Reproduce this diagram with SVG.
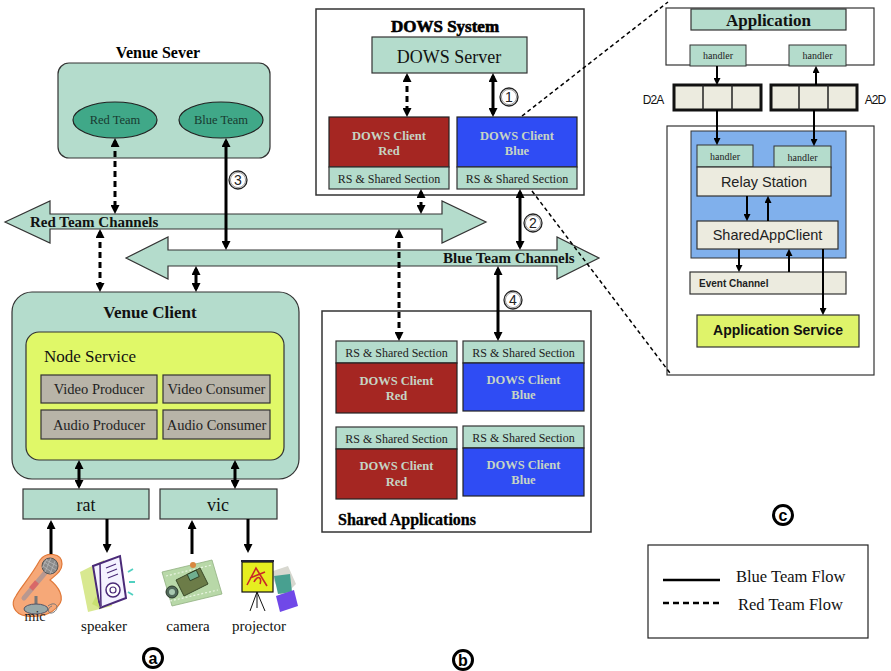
<svg xmlns="http://www.w3.org/2000/svg" width="891" height="671" viewBox="0 0 891 671">
  <style>
    .serif { font-family: "Liberation Serif", "Times New Roman", serif; }
    .sans { font-family: "Liberation Sans", Arial, sans-serif; }
    .teal { fill: #b4dccc; stroke: #333; stroke-width: 1.2; }
    .frame { fill: #fff; stroke: #333; stroke-width: 1.5; }
    .redc { fill: #a52622; stroke: #222; stroke-width: 1.2; }
    .bluec { fill: #2f4cf4; stroke: #222; stroke-width: 1.2; }
    .cl { fill: #c6d4c4; font-weight: bold; font-size: 12.5px; text-anchor: middle; }
    .rs { fill: #222; font-size: 12px; text-anchor: middle; }
    .gray { fill: #b8b4a8; stroke: #333; stroke-width: 1.2; }
    .beige { fill: #ecebdf; stroke: #333; stroke-width: 1.2; }
    .queue { fill: #ecebdf; stroke: #111; stroke-width: 3; }
    .hd { fill: #b4dccc; stroke: #333; stroke-width: 1; }
    .hdt { font-size: 10px; fill: #222; text-anchor: middle; }
    .solid { stroke: #000; stroke-width: 3; fill: none; marker-start: url(#ah); marker-end: url(#ah); }
    .dash { stroke: #000; stroke-width: 3; fill: none; stroke-dasharray: 6 4; marker-start: url(#ah); marker-end: url(#ah); }
    .one { stroke: #000; stroke-width: 3; fill: none; marker-end: url(#ah); }
    .thin { stroke: #000; stroke-width: 2; fill: none; marker-end: url(#sh); }
    .lead { stroke: #000; stroke-width: 1.5; fill: none; stroke-dasharray: 4 3; }
    .num { fill: #fff; stroke: #222; stroke-width: 1.3; }
    .num2 { fill: none; stroke: #555; stroke-width: 0.6; }
    .numt { font-size: 14px; text-anchor: middle; fill: #222; }
    .tag { fill: #fff; stroke: #000; stroke-width: 3; }
    .tagt { font-size: 16px; font-weight: bold; text-anchor: middle; fill: #000; }
    .lbl { font-size: 15px; text-anchor: middle; fill: #111; }
  </style>
  <defs>
    <marker id="ah" viewBox="0 0 10 10" refX="6.7" refY="5" markerWidth="9" markerHeight="9" markerUnits="userSpaceOnUse" orient="auto-start-reverse">
      <path d="M0,0 L10,5 L0,10 z" fill="#000"/>
    </marker>
    <marker id="sh" viewBox="0 0 10 10" refX="7" refY="5" markerWidth="7" markerHeight="7" markerUnits="userSpaceOnUse" orient="auto-start-reverse">
      <path d="M0,0 L10,5 L0,10 z" fill="#000"/>
    </marker>
  </defs>

  <rect width="891" height="671" fill="#fff"/>

  <!-- Venue Sever -->
  <g id="venue-sever">
    <text class="serif" x="158" y="58" font-size="16" font-weight="bold" text-anchor="middle">Venue Sever</text>
    <rect class="teal" x="58" y="63" width="212" height="95" rx="11"/>
    <ellipse cx="115" cy="120" rx="42" ry="18" fill="#40a888" stroke="#222" stroke-width="1.2"/>
    <text class="serif" x="115" y="124" font-size="12.5" text-anchor="middle" fill="#183a30">Red Team</text>
    <ellipse cx="221" cy="120" rx="42" ry="18" fill="#40a888" stroke="#222" stroke-width="1.2"/>
    <text class="serif" x="221" y="124" font-size="12.5" text-anchor="middle" fill="#183a30">Blue Team</text>
  </g>

  <!-- DOWS System -->
  <g id="dows-system">
    <rect class="frame" x="316" y="9" width="268" height="186"/>
    <text class="serif" x="445" y="32" font-size="17" font-weight="bold" text-anchor="middle" stroke="#000" stroke-width="0.6">DOWS System</text>
    <rect class="teal" x="372" y="37" width="155" height="36"/>
    <text class="serif" x="449" y="63" font-size="18" text-anchor="middle" fill="#111">DOWS Server</text>
    <rect class="redc" x="329" y="117" width="120" height="50"/>
    <text class="serif cl" x="389" y="140">DOWS Client</text>
    <text class="serif cl" x="389" y="155">Red</text>
    <rect class="teal" x="329" y="167" width="120" height="22"/>
    <text class="serif rs" x="389" y="183">RS &amp; Shared Section</text>
    <rect class="bluec" x="457" y="117" width="120" height="50"/>
    <text class="serif cl" x="517" y="140">DOWS Client</text>
    <text class="serif cl" x="517" y="155">Blue</text>
    <rect class="teal" x="457" y="167" width="120" height="22"/>
    <text class="serif rs" x="517" y="183">RS &amp; Shared Section</text>
  </g>

  <!-- Channels -->
  <g id="red-channels">
    <polygon class="teal" points="5,222 50,201 50,214 442,214 442,201 486,222 442,243 442,229 50,229 50,243"/>
    <text class="serif" x="30" y="227" font-size="15" font-weight="bold" fill="#111">Red Team Channels</text>
  </g>
  <g id="blue-channels">
    <polygon class="teal" points="126,258 168,237 168,250 557,250 557,237 599,258 557,279 557,266 168,266 168,279"/>
    <text class="serif" x="443" y="263" font-size="15" font-weight="bold" fill="#111">Blue Team Channels</text>
  </g>

  <!-- Venue Client -->
  <g id="venue-client">
    <rect class="teal" x="12" y="292" width="287" height="187" rx="20"/>
    <text class="serif" x="150" y="318" font-size="17" font-weight="bold" text-anchor="middle" fill="#111">Venue Client</text>
    <rect x="26" y="332" width="258" height="128" rx="13" fill="#e0f868" stroke="#333" stroke-width="1.2"/>
    <text class="serif" x="44" y="362" font-size="17" fill="#111">Node Service</text>
    <rect class="gray" x="41" y="375" width="116" height="28"/>
    <text class="serif" x="99" y="394" font-size="14.5" text-anchor="middle" fill="#222">Video Producer</text>
    <rect class="gray" x="163" y="375" width="107" height="28"/>
    <text class="serif" x="216.5" y="394" font-size="14.5" text-anchor="middle" fill="#222">Video Consumer</text>
    <rect class="gray" x="41" y="410" width="116" height="29"/>
    <text class="serif" x="99" y="430" font-size="14.5" text-anchor="middle" fill="#222">Audio Producer</text>
    <rect class="gray" x="163" y="410" width="107" height="29"/>
    <text class="serif" x="216.5" y="430" font-size="14.5" text-anchor="middle" fill="#222">Audio Consumer</text>
  </g>

  <g id="rat">
    <rect class="teal" x="23" y="489" width="126" height="30"/>
    <text class="serif" x="86" y="511" font-size="18" text-anchor="middle" fill="#111">rat</text>
  </g>
  <g id="vic">
    <rect class="teal" x="160" y="489" width="117" height="30"/>
    <text class="serif" x="218" y="511" font-size="18" text-anchor="middle" fill="#111">vic</text>
  </g>

  <!-- Shared Applications -->
  <g id="shared-applications">
    <rect class="frame" x="322" y="311" width="269" height="221"/>
    <rect class="teal" x="336" y="341" width="121" height="22"/>
    <text class="serif rs" x="396.5" y="357">RS &amp; Shared Section</text>
    <rect class="redc" x="336" y="363" width="121" height="50"/>
    <text class="serif cl" x="396.5" y="385">DOWS Client</text>
    <text class="serif cl" x="396.5" y="400">Red</text>
    <rect class="teal" x="463" y="341" width="121" height="22"/>
    <text class="serif rs" x="523.5" y="357">RS &amp; Shared Section</text>
    <rect class="bluec" x="463" y="363" width="121" height="48"/>
    <text class="serif cl" x="523.5" y="384">DOWS Client</text>
    <text class="serif cl" x="523.5" y="399">Blue</text>
    <rect class="teal" x="336" y="427" width="121" height="22"/>
    <text class="serif rs" x="396.5" y="443">RS &amp; Shared Section</text>
    <rect class="redc" x="336" y="449" width="121" height="50"/>
    <text class="serif cl" x="396.5" y="470">DOWS Client</text>
    <text class="serif cl" x="396.5" y="486">Red</text>
    <rect class="teal" x="463" y="426" width="121" height="22"/>
    <text class="serif rs" x="523.5" y="442">RS &amp; Shared Section</text>
    <rect class="bluec" x="463" y="448" width="121" height="48"/>
    <text class="serif cl" x="523.5" y="469">DOWS Client</text>
    <text class="serif cl" x="523.5" y="484">Blue</text>
    <text class="serif" x="338" y="525" font-size="16" font-weight="bold" fill="#000" stroke="#000" stroke-width="0.3">Shared Applications</text>
  </g>

  <!-- Detail of a DOWS client -->
  <g id="client-detail">
    <rect x="666" y="8" width="208" height="57" fill="#fff" stroke="#333" stroke-width="1.2"/>
    <rect class="teal" x="691" y="9" width="155" height="21"/>
    <text class="serif" x="768.5" y="26" font-size="17" font-weight="bold" text-anchor="middle" fill="#111">Application</text>
    <rect class="hd" x="690" y="45" width="56" height="21"/>
    <text class="serif hdt" x="718" y="59">handler</text>
    <rect class="hd" x="789" y="45" width="57" height="21"/>
    <text class="serif hdt" x="817.5" y="59">handler</text>

    <text class="sans" x="653" y="104" font-size="12" text-anchor="middle" letter-spacing="-1" fill="#111">D2A</text>
    <rect class="queue" x="674" y="85" width="87" height="25"/>
    <line x1="703" y1="85" x2="703" y2="110" stroke="#222" stroke-width="1.5"/>
    <line x1="732" y1="85" x2="732" y2="110" stroke="#222" stroke-width="1.5"/>
    <rect class="queue" x="771" y="85" width="86" height="25"/>
    <line x1="799" y1="85" x2="799" y2="110" stroke="#222" stroke-width="1.5"/>
    <line x1="828" y1="85" x2="828" y2="110" stroke="#222" stroke-width="1.5"/>
    <text class="sans" x="875" y="104" font-size="12" text-anchor="middle" letter-spacing="-1" fill="#111">A2D</text>

    <rect x="667" y="126" width="207" height="249" fill="#fff" stroke="#333" stroke-width="1.2"/>
    <rect x="691" y="131" width="155" height="127" fill="#80b0ec" stroke="#333" stroke-width="1"/>
    <rect class="hd" x="697" y="145" width="56" height="22"/>
    <text class="serif hdt" x="725" y="160">handler</text>
    <rect class="hd" x="774" y="146" width="57" height="22"/>
    <text class="serif hdt" x="802.5" y="161">handler</text>
    <rect class="beige" x="697" y="167" width="134" height="29"/>
    <text class="sans" x="764" y="187" font-size="14.5" text-anchor="middle" fill="#222">Relay Station</text>
    <rect class="beige" x="697" y="221" width="141" height="28"/>
    <text class="sans" x="767.5" y="240" font-size="14.5" text-anchor="middle" fill="#222">SharedAppClient</text>
    <rect class="beige" x="690" y="272" width="156" height="22"/>
    <text class="sans" x="699" y="287" font-size="10" font-weight="bold" fill="#222">Event Channel</text>
    <rect x="697" y="315" width="162" height="32" fill="#dff36a" stroke="#333" stroke-width="1.2"/>
    <text class="sans" x="778" y="335" font-size="14" font-weight="bold" text-anchor="middle" fill="#111">Application Service</text>
  </g>

  <!-- Icons -->
  <g id="mic">
    <path d="M40,560 C46,552 62,552 62,564 C62,572 54,576 50,580 C58,586 66,598 58,606 C52,614 40,618 26,616 C14,614 10,604 16,596 C20,588 30,578 40,560 z" fill="#f6a878" stroke="#e07838" stroke-width="1.2"/>
    <line x1="45" y1="573" x2="24" y2="598" stroke="#b89890" stroke-width="5" stroke-linecap="round"/>
    <line x1="37" y1="582" x2="31" y2="589" stroke="#d86868" stroke-width="5"/>
    <circle cx="50" cy="566" r="8" fill="#8a8a8a" stroke="#555" stroke-width="1"/>
    <path d="M44,562 L56,570 M46,560 L57,566 M43,566 L53,573 M47,559 L42,568 M51,558 L45,572 M55,561 L50,574" stroke="#bbb" stroke-width="0.7"/>
    <line x1="36" y1="596" x2="36" y2="606" stroke="#777" stroke-width="3"/>
    <ellipse cx="36" cy="609" rx="12" ry="5" fill="#98a8a8" stroke="#556" stroke-width="1"/>
    <path d="M48,606 C56,600 60,608 54,612 C48,616 46,608 52,606" fill="none" stroke="#777" stroke-width="1"/>
    <text class="serif" x="35" y="621" font-size="14" text-anchor="middle" fill="#222">mic</text>
  </g>
  <g id="speaker">
    <polygon points="80,572 104,560 112,606 88,612" fill="#d8e890"/>
    <polygon points="93,566 120,556 126,598 100,608" fill="#f4f2ff" stroke="#4a2a78" stroke-width="2"/>
    <line x1="100" y1="564" x2="101" y2="606" stroke="#4a2a78" stroke-width="1.5"/>
    <path d="M106,568 L116,564 M107,573 L117,569 M108,578 L118,574" stroke="#4a2a78" stroke-width="1.2"/>
    <circle cx="113" cy="590" r="7" fill="#fff" stroke="#4a2a78" stroke-width="1.5"/>
    <circle cx="113" cy="590" r="3" fill="none" stroke="#4a2a78" stroke-width="1.2"/>
    <path d="M128,572 L133,569 M129,582 L135,582 M128,592 L133,595" stroke="#50d0c0" stroke-width="1.8"/>
    <polygon points="96,596 92,604 100,608" fill="#c8e070"/>
  </g>
  <g id="camera">
    <polygon points="162,572 212,560 222,594 172,606" fill="#b8d8a8" stroke="#90b080" stroke-width="0.8"/>
    <path d="M166,576 L212,565 M170,601 L218,590" stroke="#e8f4e0" stroke-width="1.2" stroke-dasharray="2 2"/>
    <polygon points="176,580 200,568 208,584 184,596" fill="#6c7c48" stroke="#3a4a28" stroke-width="1"/>
    <rect x="188" y="572" width="10" height="7" fill="#70b090" stroke="#2a3a20" stroke-width="0.8" transform="rotate(-25 193 575)"/>
    <circle cx="172" cy="592" r="6" fill="#50685a" stroke="#2a3a28" stroke-width="1"/>
    <circle cx="172" cy="592" r="3" fill="#a8c8b0"/>
    <circle cx="193" cy="565" r="3" fill="#d88840"/>
  </g>
  <g id="projector">
    <polygon points="270,572 288,566 296,584 282,598" fill="#d8d8d0"/>
    <polygon points="274,576 290,574 292,592 278,594" fill="#48a090"/>
    <polygon points="276,596 294,590 298,606 280,612" fill="#7048e8"/>
    <rect x="242" y="562" width="31" height="30" fill="#e6ee20" stroke="#111" stroke-width="1.2"/>
    <line x1="241" y1="561" x2="274" y2="561" stroke="#223" stroke-width="2"/>
    <path d="M247,585 L256,568 L267,586 M250,578 L265,572 M254,582 C258,574 262,578 260,584" fill="none" stroke="#c82828" stroke-width="1.6"/>
    <line x1="257" y1="592" x2="250" y2="611" stroke="#111" stroke-width="1"/>
    <line x1="257" y1="592" x2="265" y2="611" stroke="#111" stroke-width="1"/>
    <line x1="257" y1="592" x2="257" y2="608" stroke="#111" stroke-width="1"/>
  </g>
  <g id="device-labels">
    <text class="serif lbl" x="104" y="631">speaker</text>
    <text class="serif lbl" x="188" y="631">camera</text>
    <text class="serif lbl" x="259" y="631">projector</text>
  </g>

  <!-- Legend -->
  <g id="legend">
    <rect x="648" y="545" width="220" height="93" fill="#fff" stroke="#222" stroke-width="1.2"/>
    <line x1="663" y1="580" x2="720" y2="580" stroke="#000" stroke-width="2.5"/>
    <line x1="663" y1="603" x2="720" y2="603" stroke="#000" stroke-width="2.5" stroke-dasharray="6 4"/>
    <text class="serif" x="736" y="582" font-size="16.5" fill="#111">Blue Team Flow</text>
    <text class="serif" x="738" y="610" font-size="16.5" fill="#111">Red Team Flow</text>
  </g>

  <!-- Panel tags -->
  <g id="tags">
    <circle class="tag" cx="153" cy="658" r="9.5"/>
    <text class="sans tagt" x="153" y="663.5">a</text>
    <circle class="tag" cx="463" cy="660" r="9.5"/>
    <text class="sans tagt" x="463" y="665.5">b</text>
    <circle class="tag" cx="783" cy="515" r="9.5"/>
    <text class="sans tagt" x="783" y="520.5">c</text>
  </g>

  <!-- Connectors -->
  <g id="connectors">
    <line class="solid" x1="493" y1="76" x2="493" y2="114"/>
    <line class="dash" x1="407" y1="76" x2="407" y2="114"/>
    <line class="solid" x1="520" y1="192" x2="520" y2="247"/>
    <line class="dash" x1="421" y1="192" x2="421" y2="211" stroke-dasharray="4 3"/>
    <line class="solid" x1="226" y1="141" x2="226" y2="247"/>
    <line class="dash" x1="115" y1="141" x2="115" y2="211"/>
    <line class="dash" x1="100" y1="232" x2="100" y2="289"/>
    <line class="solid" x1="196" y1="269" x2="196" y2="289"/>
    <line class="solid" x1="498" y1="269" x2="498" y2="338"/>
    <line class="dash" x1="399" y1="232" x2="399" y2="338"/>
    <line class="solid" x1="79" y1="463" x2="79" y2="486"/>
    <line class="solid" x1="235" y1="463" x2="235" y2="486"/>
    <line class="one" x1="51" y1="554" x2="51" y2="523"/>
    <line class="one" x1="107" y1="519" x2="107" y2="550"/>
    <line class="one" x1="192" y1="554" x2="192" y2="523"/>
    <line class="one" x1="248" y1="519" x2="248" y2="550"/>

    <line class="thin" x1="717" y1="66" x2="717" y2="83"/>
    <line class="thin" x1="816" y1="85" x2="816" y2="68"/>
    <line class="thin" x1="717" y1="110" x2="717" y2="143"/>
    <line class="thin" x1="814" y1="110" x2="814" y2="144"/>
    <line class="thin" x1="747" y1="196" x2="747" y2="219"/>
    <line class="thin" x1="768" y1="221" x2="768" y2="198"/>
    <line class="thin" x1="739" y1="249" x2="739" y2="270"/>
    <line class="thin" x1="789" y1="272" x2="789" y2="251"/>
    <line class="thin" x1="823" y1="249" x2="823" y2="313"/>

    <line class="lead" x1="522" y1="116" x2="668" y2="2"/>
    <line class="lead" x1="532" y1="191" x2="670" y2="373"/>

    <circle class="num" cx="509" cy="97" r="9"/>
    <circle class="num2" cx="509" cy="97" r="7.6"/>
    <text class="sans numt" x="509" y="102">1</text>
    <circle class="num" cx="533" cy="223" r="9"/>
    <circle class="num2" cx="533" cy="223" r="7.6"/>
    <text class="sans numt" x="533" y="228">2</text>
    <circle class="num" cx="238" cy="180" r="9"/>
    <circle class="num2" cx="238" cy="180" r="7.6"/>
    <text class="sans numt" x="238" y="185">3</text>
    <circle class="num" cx="513" cy="300" r="9"/>
    <circle class="num2" cx="513" cy="300" r="7.6"/>
    <text class="sans numt" x="513" y="305">4</text>
  </g>
</svg>
